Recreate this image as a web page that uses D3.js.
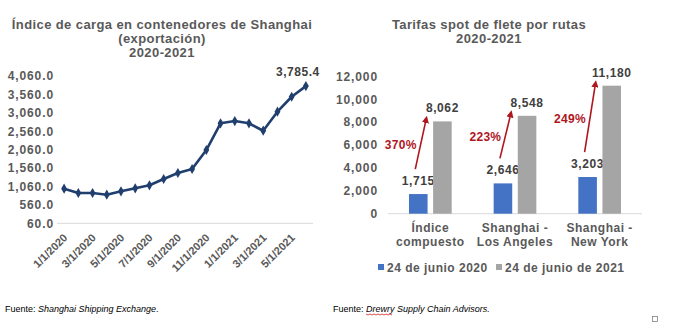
<!DOCTYPE html>
<html><head><meta charset="utf-8">
<script src="https://cdn.jsdelivr.net/npm/d3@7"></script>
<style>
body{margin:0;background:#fff;}
svg{display:block;font-family:"Liberation Sans",Arial,sans-serif;}
</style></head>
<body><svg id="c" width="700" height="326"></svg>
<script>
// ---- Left chart data ----
const months = ["1/1/2020","2/1/2020","3/1/2020","4/1/2020","5/1/2020","6/1/2020","7/1/2020","8/1/2020","9/1/2020","10/1/2020","11/1/2020","12/1/2020","1/1/2021","2/1/2021","3/1/2021","4/1/2021","5/1/2021","6/1/2021"];
const scfi = [999, 883, 883, 837, 929, 1010, 1092, 1263, 1426, 1534, 2050, 2775, 2837, 2775, 2574, 3090, 3497, 3785.4];
const leftTicks = [60, 560, 1060, 1560, 2060, 2560, 3060, 3560, 4060];
const leftTitle = ["Índice de carga en contenedores  de Shanghai", "(exportación)", "2020-2021"];

// ---- Right chart data ----
const routes = [["Índice","compuesto"],["Shanghai -","Los Angeles"],["Shanghai -","New York"]];
const seriesNames = ["24 de junio 2020","24 de junio de 2021"];
const rates2020 = [1715, 2646, 3203];
const rates2021 = [8062, 8548, 11180];
const growth = ["370%","223%","249%"];
const rightTicks = [0, 2000, 4000, 6000, 8000, 10000, 12000];
const rightTitle = ["Tarifas spot de flete por rutas", "2020-2021"];

const sources = [["Fuente: ","Shanghai Shipping Exchange."],["Fuente: ","Drewry Supply Chain Advisors."]];

const svg = d3.select("#c");
const gray = "#595959", dark = "#404040";
const lineColor = "#203f6e";

// ===== Left chart =====
const L = svg.append("g");
L.append("text").attr("text-anchor","middle").attr("fill",gray)
  .attr("font-size",13).attr("font-weight","bold").attr("letter-spacing",0.4)
  .selectAll("tspan").data(leftTitle).join("tspan")
  .attr("x",162).attr("y",(d,i)=>29+i*14).text(d=>d);

const xL = d3.scaleBand().domain(months).range([57,313]);
const yL = d3.scaleLinear().domain([60,4060]).range([223.3,76]);

L.append("line").attr("x1",57).attr("x2",313).attr("y1",yL(60)).attr("y2",yL(60))
  .attr("stroke","#d9d9d9").attr("stroke-width",1);

const yAxL = L.append("g").attr("transform","translate(57,0)")
  .call(d3.axisLeft(yL).tickValues(leftTicks).tickSize(0).tickPadding(3).tickFormat(d3.format(",.1f")));
yAxL.select(".domain").remove();
yAxL.selectAll("text").attr("fill",gray).attr("font-size",12).attr("font-weight","bold")
  .attr("letter-spacing",0.9).style("font-family","'Liberation Sans',Arial,sans-serif");

const xAxL = L.append("g").attr("transform",`translate(0,${yL(60)})`)
  .call(d3.axisBottom(xL).tickValues(months.filter((d,i)=>i%2===0)).tickSize(0).tickPadding(0));
xAxL.select(".domain").remove();
xAxL.selectAll("text").attr("fill",gray).attr("font-size",11).attr("font-weight","bold")
  .style("font-family","'Liberation Sans',Arial,sans-serif")
  .attr("text-anchor","end").attr("dy",0).attr("y",0)
  .attr("transform","translate(4,15) rotate(-45)");

const cx = d => xL(d) + xL.bandwidth()/2;
L.append("path").datum(scfi.map((v,i)=>[cx(months[i]), yL(v)]))
  .attr("d", d3.line()).attr("fill","none").attr("stroke",lineColor).attr("stroke-width",2.6)
  .attr("stroke-linejoin","round");
L.selectAll(".mk").data(scfi).join("path")
  .attr("transform",(v,i)=>`translate(${cx(months[i])},${yL(v)})`)
  .attr("d", d3.symbol(d3.symbolDiamond, 30)).attr("fill",lineColor);
const lastI = scfi.length-1;
L.append("text").attr("x",cx(months[lastI])-8).attr("y",yL(scfi[lastI])-10)
  .attr("text-anchor","middle").attr("fill",dark).attr("font-size",12).attr("font-weight","bold")
  .attr("letter-spacing",0.5)
  .text(d3.format(",.1f")(scfi[lastI]));

// ===== Right chart =====
const R = svg.append("g");
R.append("text").attr("text-anchor","middle").attr("fill",gray)
  .attr("font-size",13).attr("font-weight","bold").attr("letter-spacing",0.4)
  .selectAll("tspan").data(rightTitle).join("tspan")
  .attr("x",489).attr("y",(d,i)=>29+i*14).text(d=>d);

const x0 = d3.scaleBand().domain(d3.range(routes.length)).range([388,642]);
const x1 = d3.scaleBand().domain([0,1]).range([0,x0.bandwidth()]).paddingInner(0.23).paddingOuter(0.87);
const yR = d3.scaleLinear().domain([0,12000]).range([213.7,76.3]);
const colors = ["#4472c4","#a5a5a5"];

const yAxR = R.append("g").attr("transform","translate(381,0)")
  .call(d3.axisLeft(yR).tickValues(rightTicks).tickSize(0).tickPadding(3).tickFormat(d3.format(",")));
yAxR.select(".domain").remove();
yAxR.selectAll("text").attr("fill",gray).attr("font-size",12).attr("font-weight","bold")
  .attr("letter-spacing",0.9).style("font-family","'Liberation Sans',Arial,sans-serif");

R.append("line").attr("x1",388).attr("x2",642).attr("y1",yR(0)).attr("y2",yR(0))
  .attr("stroke","#d9d9d9").attr("stroke-width",1);

const seriesVals = [rates2020, rates2021];
seriesVals.forEach((vals,s)=>{
  R.selectAll(".b"+s).data(vals).join("rect")
    .attr("x",(v,i)=>x0(i)+x1(s)).attr("width",x1.bandwidth())
    .attr("y",v=>yR(v)).attr("height",v=>yR(0)-yR(v)).attr("fill",colors[s]);
  R.selectAll(".l"+s).data(vals).join("text")
    .attr("x",(v,i)=>x0(i)+x1(s)+x1.bandwidth()/2).attr("y",v=>yR(v)-9)
    .attr("text-anchor","middle").attr("fill",dark).attr("font-size",12).attr("font-weight","bold")
    .attr("letter-spacing",0.6)
    .text(d3.format(","));
});

// category labels
R.selectAll(".cat").data(routes).join("text")
  .attr("text-anchor","middle").attr("fill",gray).attr("font-size",12).attr("font-weight","bold")
  .attr("letter-spacing",0.5)
  .each(function(d,i){
    d3.select(this).selectAll("tspan").data(d).join("tspan")
      .attr("x",x0(i)+x0.bandwidth()/2).attr("y",(t,j)=>232+j*14).text(t=>t);
  });

// growth arrows
const red = "#b0161e";
svg.append("defs").append("marker").attr("id","ah").attr("viewBox","0 0 10 10")
  .attr("refX",5).attr("refY",5).attr("markerWidth",4.5).attr("markerHeight",4.5)
  .attr("orient","auto-start-reverse").attr("markerUnits","strokeWidth")
  .append("path").attr("d","M0,0 L10,5 L0,10 z").attr("fill",red);
growth.forEach((g,i)=>{
  const xs = x0(i)+x1(0)+x1.bandwidth()/2 - 3;
  const ys = yR(rates2020[i]) - 25;
  const xe = x0(i)+x1(1) - 7;
  const ye = yR(rates2021[i]) - 2;
  R.append("line").attr("x1",xs).attr("y1",ys).attr("x2",xe).attr("y2",ye)
    .attr("stroke",red).attr("stroke-width",1.6).attr("marker-end","url(#ah)");
  R.append("text").attr("x",(xs+xe)/2-4).attr("y",(ys+ye)/2+5)
    .attr("text-anchor","end").attr("fill",red).attr("font-size",12).attr("font-weight","bold")
    .attr("letter-spacing",0.3).text(g);
});

// legend
const leg = R.append("g").attr("transform","translate(378,267)");
const legX = [0, 118];
seriesNames.forEach((n,i)=>{
  leg.append("rect").attr("x",legX[i]).attr("y",-3).attr("width",6).attr("height",6).attr("fill",colors[i]);
  leg.append("text").attr("x",legX[i]+9).attr("y",4.5).attr("fill",gray).attr("font-size",12)
    .attr("font-weight","bold").attr("letter-spacing",0.5).text(n);
});

// sources
const srcX = [5, 333];
sources.forEach((s,i)=>{
  const t = svg.append("text").attr("x",srcX[i]).attr("y",312).attr("font-size",9).attr("fill","#000");
  t.append("tspan").text(s[0]);
  t.append("tspan").attr("font-style","italic").text(s[1]);
});
// spell-check squiggle under "Drewry"
svg.append("path").attr("d", d3.line()(d3.range(0,28,2).map((x,k)=>[366+x, 314+(k%2)])))
  .attr("fill","none").attr("stroke","#d02020").attr("stroke-width",0.8);
// small square mark
svg.append("rect").attr("x",652.5).attr("y",316.5).attr("width",5).attr("height",5)
  .attr("fill","none").attr("stroke","#808080").attr("stroke-width",0.8);
</script></body></html>
